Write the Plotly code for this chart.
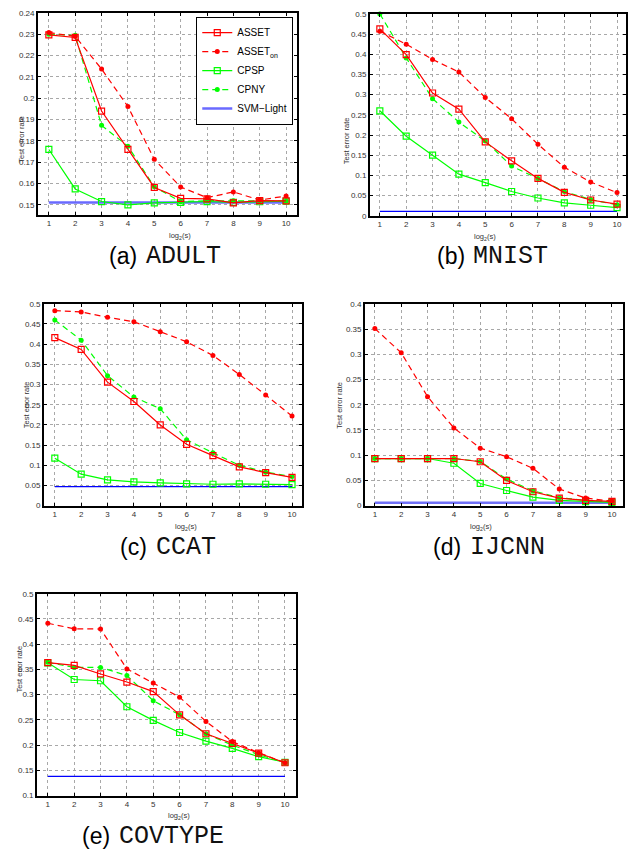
import plotly.graph_objects as go

x_vals = [1, 2, 3, 4, 5, 6, 7, 8, 9, 10]

# ---- (a) ADULT ----
adult_asset = [0.2297, 0.2285, 0.1940, 0.1760, 0.1582, 0.1531, 0.1528, 0.1510, 0.1520, 0.1519]
adult_asset_on = [0.2308, 0.2290, 0.2137, 0.1961, 0.1714, 0.1584, 0.1534, 0.1561, 0.1523, 0.1542]
adult_cpsp = [0.1760, 0.1575, 0.1516, 0.1500, 0.1510, 0.1512, 0.1516, 0.1512, 0.1515, 0.1518]
adult_cpny = [0.2300, 0.2295, 0.1873, 0.1775, 0.1585, 0.1515, 0.1520, 0.1520, 0.1520, 0.1518]
adult_svm = [0.1512] * 10

# ---- (b) MNIST ----
mnist_asset = [0.463, 0.399, 0.304, 0.264, 0.183, 0.136, 0.0925, 0.058, 0.039, 0.029]
mnist_asset_on = [0.457, 0.425, 0.387, 0.356, 0.293, 0.240, 0.177, 0.120, 0.0835, 0.0573]
mnist_cpsp = [0.260, 0.197, 0.150, 0.103, 0.082, 0.060, 0.044, 0.032, 0.026, 0.020]
mnist_cpny = [0.500, 0.391, 0.290, 0.232, 0.185, 0.123, 0.092, 0.060, 0.040, 0.027]
mnist_svm = [0.011] * 10

# ---- (c) CCAT ----
ccat_asset = [0.4163, 0.387, 0.306, 0.258, 0.200, 0.152, 0.124, 0.096, 0.082, 0.070]
ccat_asset_on = [0.483, 0.480, 0.4665, 0.4555, 0.431, 0.406, 0.372, 0.325, 0.274, 0.222]
ccat_cpsp = [0.1176, 0.078, 0.0637, 0.0588, 0.0563, 0.054, 0.053, 0.054, 0.053, 0.052]
ccat_cpny = [0.460, 0.410, 0.322, 0.269, 0.240, 0.163, 0.131, 0.100, 0.083, 0.072]
ccat_svm = [0.047] * 10

# ---- (d) IJCNN ----
ijcnn_asset = [0.0934, 0.0934, 0.0934, 0.0934, 0.087, 0.050, 0.0276, 0.015, 0.0105, 0.0085]
ijcnn_asset_on = [0.351, 0.303, 0.216, 0.154, 0.114, 0.097, 0.074, 0.033, 0.015, 0.009]
ijcnn_cpsp = [0.0934, 0.0934, 0.0934, 0.084, 0.044, 0.030, 0.017, 0.0105, 0.008, 0.0066]
ijcnn_cpny = [0.0934, 0.0934, 0.0934, 0.0934, 0.0875, 0.0526, 0.0296, 0.0158, 0.0105, 0.0072]
ijcnn_svm = [0.006] * 10

# ---- (e) COVTYPE ----
cov_asset = [0.3634, 0.358, 0.341, 0.325, 0.306, 0.260, 0.2225, 0.2035, 0.184, 0.165]
cov_asset_on = [0.4415, 0.4305, 0.430, 0.351, 0.323, 0.295, 0.247, 0.207, 0.185, 0.165]
cov_cpsp = [0.363, 0.330, 0.3275, 0.276, 0.249, 0.225, 0.208, 0.1935, 0.177, 0.166]
cov_cpny = [0.364, 0.354, 0.354, 0.338, 0.288, 0.260, 0.2225, 0.200, 0.181, 0.1655]
cov_svm = [0.138] * 10

series_names = ["ASSET", "ASSET<sub>on</sub>", "CPSP", "CPNY", "SVM\u2212Light"]
panel_labels = ["(a)", "(b)", "(c)", "(d)", "(e)"]
dataset_names = ["ADULT", "MNIST", "CCAT", "IJCNN", "COVTYPE"]
y_ranges = [(0.1454, 0.24), (0.0, 0.5), (0.0, 0.5), (0.0, 0.4), (0.1, 0.5)]
x_ranges = [(0.584, 10.416), (0.62, 10.34), (0.584, 10.38), (0.62, 10.42), (0.584, 10.42)]
y_ticks = [
    [0.15, 0.16, 0.17, 0.18, 0.19, 0.20, 0.21, 0.22, 0.23, 0.24],
    [0, 0.05, 0.1, 0.15, 0.2, 0.25, 0.3, 0.35, 0.4, 0.45, 0.5],
    [0, 0.05, 0.1, 0.15, 0.2, 0.25, 0.3, 0.35, 0.4, 0.45, 0.5],
    [0, 0.05, 0.1, 0.15, 0.2, 0.25, 0.3, 0.35, 0.4],
    [0.1, 0.15, 0.2, 0.25, 0.3, 0.35, 0.4, 0.45, 0.5],
]
data = [
    (adult_asset, adult_asset_on, adult_cpsp, adult_cpny, adult_svm),
    (mnist_asset, mnist_asset_on, mnist_cpsp, mnist_cpny, mnist_svm),
    (ccat_asset, ccat_asset_on, ccat_cpsp, ccat_cpny, ccat_svm),
    (ijcnn_asset, ijcnn_asset_on, ijcnn_cpsp, ijcnn_cpny, ijcnn_svm),
    (cov_asset, cov_asset_on, cov_cpsp, cov_cpny, cov_svm),
]

W, H = 628, 854
# pixel boxes of the plot areas: (left, right, top, bottom)
boxes = [
    (38, 298, 9, 213),
    (371, 628, 10, 214),
    (44, 303, 303, 507),
    (366, 625, 303, 507),
    (37, 297, 596, 800),
]
# caption split x (between label and name), centre y
captions = [(139, 255), (468, 255), (149, 549), (464, 549), (112, 841)]
ytitle_x = [15, 347, 20, 341, 13]
svm_styles = [("#6a6aff", 2.5), ("#0000ff", 1.3), ("#0000ff", 1.3), ("#7070f8", 2.5), ("#0000ff", 1.3)]

RED = "#ff0000"
GREEN = "#00ff00"
FONT = "Liberation Sans"
MONO = "Liberation Mono"
DASH = "6px,4px"

fig = go.Figure()
annotations = []
layout_axes = {}

for i in range(5):
    l, r, t, b = boxes[i]
    xa = "x" if i == 0 else f"x{i+1}"
    ya = "y" if i == 0 else f"y{i+1}"
    xkey = "xaxis" if i == 0 else f"xaxis{i+1}"
    ykey = "yaxis" if i == 0 else f"yaxis{i+1}"
    show = i == 0
    asset, asset_on, cpsp, cpny, svm = data[i]
    svm_col, svm_w = svm_styles[i]
    fig.add_trace(go.Scatter(x=x_vals, y=svm, name=series_names[4], xaxis=xa, yaxis=ya,
                             mode="lines", showlegend=show, legendrank=5,
                             line=dict(color=svm_col, width=svm_w)))
    fig.add_trace(go.Scatter(x=x_vals, y=cpsp, name=series_names[2], xaxis=xa, yaxis=ya,
                             mode="lines+markers", showlegend=show, cliponaxis=False, legendrank=3,
                             line=dict(color=GREEN, width=1.2),
                             marker=dict(symbol="square-open", size=6, color=GREEN, line=dict(width=1.2))))
    fig.add_trace(go.Scatter(x=x_vals, y=cpny, name=series_names[3], xaxis=xa, yaxis=ya,
                             mode="lines+markers", showlegend=show, cliponaxis=False, legendrank=4,
                             line=dict(color=GREEN, width=1.2, dash=DASH),
                             marker=dict(symbol="circle", size=5, color=GREEN)))
    fig.add_trace(go.Scatter(x=x_vals, y=asset_on, name=series_names[1], xaxis=xa, yaxis=ya,
                             mode="lines+markers", showlegend=show, cliponaxis=False, legendrank=2,
                             line=dict(color=RED, width=1.2, dash=DASH),
                             marker=dict(symbol="circle", size=5, color=RED)))
    fig.add_trace(go.Scatter(x=x_vals, y=asset, name=series_names[0], xaxis=xa, yaxis=ya,
                             mode="lines+markers", showlegend=show, cliponaxis=False, legendrank=1,
                             line=dict(color=RED, width=1.2),
                             marker=dict(symbol="square-open", size=6, color=RED, line=dict(width=1.2))))

    common = dict(
        ticks="inside", ticklen=3, tickcolor="black",
        showline=True, mirror="ticks", linecolor="black", linewidth=1.5,
        showgrid=True, gridcolor="#a8a8a8", griddash="dot", gridwidth=1,
        zeroline=False, tickfont=dict(family=FONT, size=8, color="#333"),
        ticklabeloverflow="allow",
    )
    layout_axes[xkey] = dict(
        domain=[l / W, r / W], anchor=ya, range=list(x_ranges[i]),
        tickvals=x_vals, ticktext=[str(v) for v in x_vals], **common)
    layout_axes[ykey] = dict(
        domain=[1 - b / H, 1 - t / H], anchor=xa, range=list(y_ranges[i]),
        tickvals=y_ticks[i], ticktext=[f"{v:g}" for v in y_ticks[i]], **common)
    # x title
    annotations.append(dict(text="log<sub>2</sub>(s)", x=(l + r) / 2 / W, y=1 - (b + 14) / H,
                            xref="paper", yref="paper", showarrow=False, yanchor="top",
                            font=dict(family=FONT, size=7.5, color="#333")))
    # y title
    annotations.append(dict(text="Test error rate", x=ytitle_x[i] / W, y=1 - (t + b) / 2 / H,
                            xref="paper", yref="paper", showarrow=False, textangle=-90,
                            font=dict(family=FONT, size=7.5, color="#333")))
    cx, cy = captions[i]
    annotations.append(dict(text=panel_labels[i], x=cx / W, y=1 - cy / H, xref="paper", yref="paper",
                            xanchor="right", yanchor="middle", showarrow=False,
                            font=dict(family=FONT, size=23, color="black")))
    annotations.append(dict(text=dataset_names[i], x=(cx + 5) / W, y=1 - cy / H, xref="paper",
                            yref="paper", xanchor="left", yanchor="middle", showarrow=False,
                            font=dict(family=MONO, size=25, color="#111")))

fig.update_layout(
    width=W, height=H, margin=dict(l=0, r=0, t=0, b=0),
    paper_bgcolor="white", plot_bgcolor="white",
    font=dict(family=FONT, color="black"),
    annotations=annotations,
    legend=dict(x=294 / W, xanchor="right", y=1 - 13 / H, yanchor="top",
                bgcolor="white", bordercolor="black", borderwidth=1.2,
                font=dict(family=FONT, size=10, color="black"),
                itemwidth=30, tracegroupgap=0, traceorder="normal"),
    **layout_axes,
)

fig.write_html(
    "out.html",
    config={"displayModeBar": False},
    post_script="document.body.style.margin='0';document.body.style.overflow='hidden';",
)
